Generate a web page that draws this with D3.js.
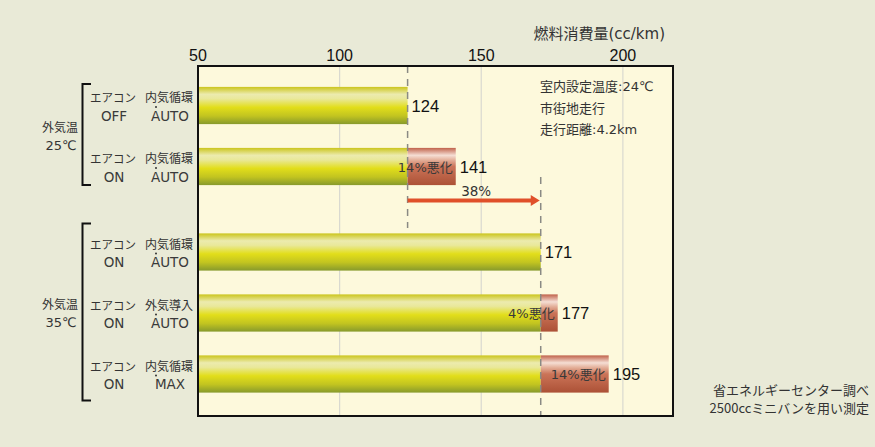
<!DOCTYPE html>
<html>
<head>
<meta charset="utf-8">
<script src="https://cdn.jsdelivr.net/npm/d3@7/dist/d3.min.js"></script>
<style>
html,body{margin:0;padding:0;background:#E9EAD7;}
svg{display:block;}
text{font-family:"DejaVu Sans","Noto Sans CJK JP",sans-serif;}
text.num{font-family:"Liberation Sans","Noto Sans CJK JP",sans-serif;}
text.cjk{font-family:"Noto Sans CJK JP",sans-serif;}
</style>
</head>
<body>
<svg id="chart" width="875" height="447"></svg>
<script>
// ---- data ----
const rowIds = ["r0","r1","r2","r3","r4"];
const groupOf = [0,0,1,1,1];
const acLabels = [["エアコン","OFF"],["エアコン","ON"],["エアコン","ON"],["エアコン","ON"],["エアコン","ON"]];
const modeLabels = [["内気循環","AUTO"],["内気循環","AUTO"],["内気循環","AUTO"],["外気導入","AUTO"],["内気循環","MAX"]];
const groupLabels = [["外気温","25℃"],["外気温","35℃"]];
const baseValues = [124,124,171,171,171];
const totalValues = [124,141,171,177,195];
const worsenLabels = ["","14%悪化","","4%悪化","14%悪化"];
const xTicks = [50,100,150,200];
const xDomain = [50,217.7];
const refValues = [124,171];
const arrowLabel = "38%";
const axisTitle = "燃料消費量(cc/km)";
const conditions = ["室内設定温度:24℃","市街地走行","走行距離:4.2km"];
const sourceNotes = ["省エネルギーセンター調べ","2500ccミニバンを用い測定"];

// ---- layout ----
const svg = d3.select("#chart");
const plot = {left:198, right:673, top:66, bottom:416};
const x = d3.scaleLinear().domain(xDomain).range([plot.left, plot.right]);
const band = d3.scaleBand().domain(rowIds).range([75,380]).paddingInner(0.39).paddingOuter(0.195);
const groupGap = 24.5;
const yTop = i => band(rowIds[i]) + (groupOf[i] === 1 ? groupGap : 0);
const bh = band.bandwidth();
const yMid = i => yTop(i) + bh/2;

// gradients
const defs = svg.append("defs");
const gY = defs.append("linearGradient").attr("id","gY").attr("x1",0).attr("y1",0).attr("x2",0).attr("y2",1);
[[0,"#CBC51C"],[0.2,"#ECEBAE"],[0.32,"#E9E89A"],[0.55,"#E2DE1A"],[0.78,"#C2C420"],[1,"#879A2C"]]
  .forEach(s=>gY.append("stop").attr("offset",s[0]).attr("stop-color",s[1]));
const gR = defs.append("linearGradient").attr("id","gR").attr("x1",0).attr("y1",0).attr("x2",0).attr("y2",1);
[[0,"#C0624A"],[0.2,"#F5DED4"],[0.33,"#E3AE98"],[0.5,"#CB7458"],[1,"#AC5136"]]
  .forEach(s=>gR.append("stop").attr("offset",s[0]).attr("stop-color",s[1]));

// plot background
svg.append("rect").attr("x",plot.left).attr("y",plot.top)
  .attr("width",plot.right-plot.left).attr("height",plot.bottom-plot.top)
  .attr("fill","#FDF9DC");

// grid
svg.append("g").selectAll("line").data(xTicks.filter(t=>t>xDomain[0])).join("line")
  .attr("x1",d=>x(d)).attr("x2",d=>x(d)).attr("y1",plot.top).attr("y2",plot.bottom)
  .attr("stroke","#D9D9D0").attr("stroke-width",1.2);

// axis tick labels
svg.append("g").selectAll("text").data(xTicks).join("text").attr("class","num")
  .attr("x",d=>x(d)).attr("y",61).attr("text-anchor","middle")
  .attr("font-size",16).attr("fill","#111").text(d=>d);
svg.append("text").attr("x",665).attr("y",39).attr("text-anchor","end")
  .attr("font-size",15).attr("fill","#333").text(axisTitle);

// bars
const bars = svg.append("g");
bars.selectAll("rect.base").data(baseValues).join("rect").attr("class","base")
  .attr("x",x(xDomain[0])).attr("y",(d,i)=>yTop(i))
  .attr("width",d=>x(d)-x(xDomain[0])).attr("height",bh).attr("fill","url(#gY)");
bars.selectAll("rect.extra").data(totalValues).join("rect").attr("class","extra")
  .attr("x",(d,i)=>x(baseValues[i])).attr("y",(d,i)=>yTop(i))
  .attr("width",(d,i)=>x(d)-x(baseValues[i])).attr("height",bh).attr("fill","url(#gR)")
  .attr("display",(d,i)=>d>baseValues[i]?null:"none");

// reference dashed lines
svg.append("line").attr("x1",x(refValues[0])).attr("x2",x(refValues[0]))
  .attr("y1",plot.top).attr("y2",228)
  .attr("stroke","#8a8a84").attr("stroke-width",1.5).attr("stroke-dasharray","7,6");
svg.append("line").attr("x1",x(refValues[1])).attr("x2",x(refValues[1]))
  .attr("y1",177).attr("y2",plot.bottom)
  .attr("stroke","#8a8a84").attr("stroke-width",1.5).attr("stroke-dasharray","7,6");

// worsen labels
svg.append("g").selectAll("text").data(worsenLabels).join("text")
  .attr("x",(d,i)=>x(totalValues[i])-3).attr("y",(d,i)=>yMid(i)+5)
  .attr("text-anchor","end").attr("font-size",13).attr("fill","#3a3a3a")
  .text(d=>d);

// value labels
svg.append("g").selectAll("text").data(totalValues).join("text").attr("class","num")
  .attr("x",d=>x(d)+4).attr("y",(d,i)=>yMid(i)+6)
  .attr("font-size",16.5).attr("fill","#111").text(d=>d);

// arrow
const ay = 200.5;
svg.append("line").attr("x1",x(refValues[0])).attr("x2",x(refValues[1])-8)
  .attr("y1",ay).attr("y2",ay).attr("stroke","#E0502A").attr("stroke-width",4);
svg.append("path")
  .attr("d",`M${x(refValues[1])-1},${ay} L${x(refValues[1])-10},${ay-5.5} L${x(refValues[1])-10},${ay+5.5} Z`)
  .attr("fill","#E0502A");
svg.append("text").attr("x",(x(refValues[0])+x(refValues[1]))/2+2).attr("y",196)
  .attr("text-anchor","middle").attr("font-size",13.5).attr("fill","#333").text(arrowLabel);

// conditions text
svg.append("g").selectAll("text").data(conditions).join("text")
  .attr("x",540).attr("y",(d,i)=>91+i*21.5)
  .attr("font-size",13).attr("fill","#333").text(d=>d);

// frame
svg.append("rect").attr("x",plot.left).attr("y",plot.top)
  .attr("width",plot.right-plot.left).attr("height",plot.bottom-plot.top)
  .attr("fill","none").attr("stroke","#111").attr("stroke-width",2);

// row labels
const rows = svg.append("g");
acLabels.forEach((lab,i)=>{
  rows.append("text").attr("class","cjk").attr("x",113).attr("y",yMid(i)-3.5).attr("text-anchor","middle")
    .attr("font-size",11.5).attr("fill","#333").text(lab[0]);
  rows.append("text").attr("x",114).attr("y",yMid(i)+15).attr("text-anchor","middle")
    .attr("font-size",13.5).attr("fill","#3a3a3a").text(lab[1]);
});
modeLabels.forEach((lab,i)=>{
  rows.append("text").attr("class","cjk").attr("x",169).attr("y",yMid(i)-3.5).attr("text-anchor","middle")
    .attr("font-size",12).attr("fill","#333").text(lab[0]);
  rows.append("circle").attr("cx",156).attr("cy",yMid(i)+1.5).attr("r",1).attr("fill","#333");
  rows.append("text").attr("x",170).attr("y",yMid(i)+15).attr("text-anchor","middle")
    .attr("font-size",13.5).attr("fill","#3a3a3a").text(lab[1]);
});

// group labels and brackets
const brackets = [
  {g:0, y1: yTop(0)-3, y2: yTop(1)+bh},
  {g:1, y1: yTop(2)-10, y2: yTop(4)+bh+8}
];
brackets.forEach(b=>{
  svg.append("path")
    .attr("d",`M91,${b.y1} L82.5,${b.y1} L82.5,${b.y2} L91,${b.y2}`)
    .attr("fill","none").attr("stroke","#111").attr("stroke-width",2);
  const c = (b.y1+b.y2)/2;
  svg.append("text").attr("class","cjk").attr("x",60).attr("y",c-3).attr("text-anchor","middle")
    .attr("font-size",12).attr("fill","#333").text(groupLabels[b.g][0]);
  svg.append("text").attr("x",61).attr("y",c+15).attr("text-anchor","middle")
    .attr("font-size",13).attr("fill","#333").text(groupLabels[b.g][1]);
});

// source notes
svg.append("g").selectAll("text").data(sourceNotes).join("text").attr("class","cjk")
  .attr("x",869).attr("y",(d,i)=>395+i*18).attr("text-anchor","end")
  .attr("font-size",13).attr("fill","#333").text(d=>d);
</script>
</body>
</html>
